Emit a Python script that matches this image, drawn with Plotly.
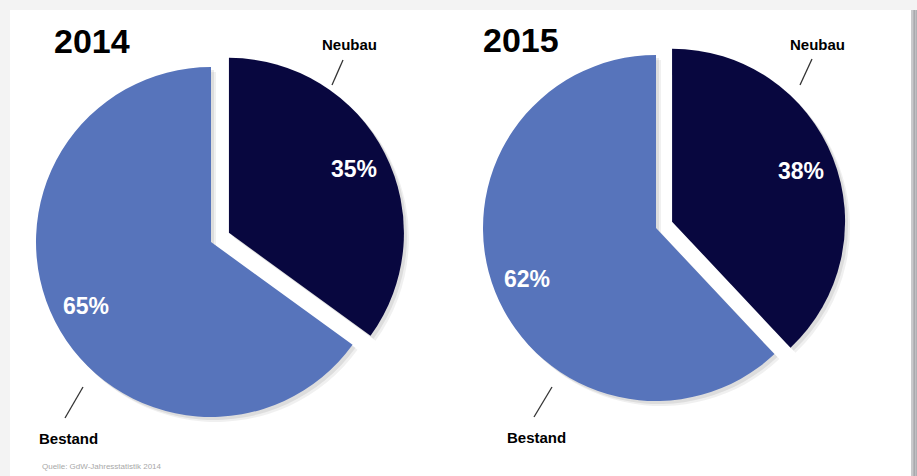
import math
import plotly.graph_objects as go

W, H = 917, 476

years = ["2014", "2015"]
categories = ["Neubau", "Bestand"]
values_2014 = [35, 65]
values_2015 = [38, 62]
colors = ["#08073f", "#5774bb"]

# pie layout (pixels): centre and radius, explode fraction
pies = [
    dict(year="2014", vals=values_2014, cx=211, cy=242, r=175, pull=0.115),
    dict(year="2015", vals=values_2015, cx=656, cy=228, r=173, pull=0.10),
]


def px(x):
    return x / W


def py(y):
    return 1 - y / H


fig = go.Figure()

# page background panel
shapes = [
    dict(type="rect", xref="paper", yref="paper", x0=px(10), x1=px(911), y0=0, y1=py(10),
         fillcolor="white", line=dict(width=0), layer="below"),
]
for x0, c in [(911, "#c9c9cc"), (912.5, "#b6b6ba"), (914, "#a9a9ad"), (915.5, "#b0b0b4")]:
    shapes.append(dict(type="rect", xref="paper", yref="paper", x0=px(x0), x1=px(x0 + 1.5),
                       y0=0, y1=py(10), fillcolor=c, line=dict(width=0), layer="below"))

annotations = []


def note(x, y, text, size, color, xanchor="center"):
    annotations.append(dict(x=px(x), y=py(y), xref="paper", yref="paper", text=text,
                            showarrow=False, xanchor=xanchor, yanchor="middle",
                            font=dict(family="Liberation Sans, Arial", size=size, color=color)))


for p in pies:
    half = p["r"] * (1 + p["pull"])
    pulls = [p["pull"], 0]
    # soft shadow
    for off, alpha in [(5, 0.06), (3, 0.08)]:
        fig.add_trace(go.Pie(
            values=p["vals"], labels=categories, sort=False, direction="clockwise", rotation=0,
            pull=pulls, textinfo="none", hoverinfo="skip", showlegend=False,
            marker=dict(colors=[f"rgba(0,0,0,{alpha})"] * 2, line=dict(width=0)),
            domain=dict(x=[px(p["cx"] + off - half), px(p["cx"] + off + half)],
                        y=[py(p["cy"] + off + half), py(p["cy"] + off - half)]),
        ))
    fig.add_trace(go.Pie(
        values=p["vals"], labels=categories, sort=False, direction="clockwise", rotation=0,
        pull=pulls, textinfo="none", showlegend=False,
        marker=dict(colors=colors, line=dict(width=0)),
        domain=dict(x=[px(p["cx"] - half), px(p["cx"] + half)],
                    y=[py(p["cy"] + half), py(p["cy"] - half)]),
    ))
    # percent labels placed along each slice's mid-angle
    total = sum(p["vals"])
    start = 0.0
    for k, v in enumerate(p["vals"]):
        span = 360.0 * v / total
        mid = math.radians(start + span / 2)
        start += span
        ox = p["cx"] + pulls[k] * p["r"] * math.sin(mid)
        oy = p["cy"] - pulls[k] * p["r"] * math.cos(mid)
        lx = ox + 0.8 * p["r"] * math.sin(mid)
        ly = oy - 0.8 * p["r"] * math.cos(mid)
        note(lx, ly, f"<b>{v}%</b>", 23, "white")

# titles
for t, (x, y) in zip(years, [(92, 41), (521, 40)]):
    note(x, y, f"<b>{t}</b>", 34, "black")

# category labels with leader lines
label_pos = [
    ("Neubau", 349, 44, (343, 60, 332, 85)),
    ("Bestand", 68, 438, (83, 387, 65, 418)),
    ("Neubau", 817, 44, (812, 59, 800, 85)),
    ("Bestand", 536, 437, (552, 387, 534, 417)),
]
for txt, x, y, (x0, y0, x1, y1) in label_pos:
    note(x, y, f"<b>{txt}</b>", 15, "black")
    shapes.append(dict(type="line", xref="paper", yref="paper", x0=px(x0), y0=py(y0), x1=px(x1), y1=py(y1),
                       line=dict(color="#333333", width=1.3)))

note(40, 466, "Quelle: GdW-Jahresstatistik 2014", 8, "#a8a8a8", xanchor="left")

fig.update_layout(
    width=W, height=H, margin=dict(l=0, r=0, t=0, b=0),
    paper_bgcolor="#f3f3f3", plot_bgcolor="white",
    shapes=shapes, annotations=annotations, showlegend=False,
)

fig.write_html("out.html")
